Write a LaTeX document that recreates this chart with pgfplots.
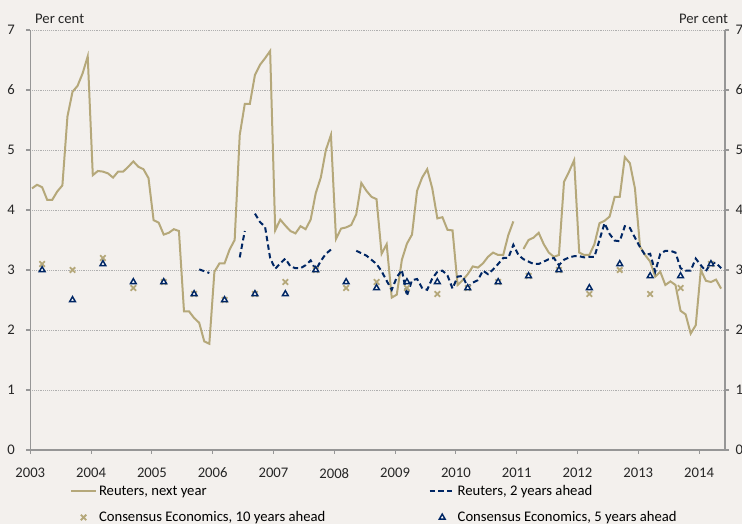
\documentclass[border=0pt]{standalone}
\usepackage{fontspec}
\setmainfont{Carlito}
\usepackage{pgfplots}
\pgfplotsset{compat=1.18}
\usepackage{pgfplotstable}
\usetikzlibrary{backgrounds}
\definecolor{bgc}{RGB}{243,240,237}
\definecolor{khaki}{RGB}{181,168,122}
\definecolor{navy}{RGB}{0,38,100}
\definecolor{axgray}{RGB}{150,150,150}
\definecolor{gridgray}{RGB}{175,175,175}

% t = months since January 2003
\pgfplotstableread{
t v
0 4.36
1 4.42
2 4.38
3 4.17
4 4.17
5 4.31
6 4.41
7 5.56
8 5.97
9 6.07
10 6.28
11 6.56
12 4.58
13 4.65
14 4.64
15 4.61
16 4.54
17 4.64
18 4.64
19 4.72
20 4.81
21 4.72
22 4.68
23 4.53
24 3.83
25 3.79
26 3.59
27 3.62
28 3.68
29 3.65
30 2.31
31 2.31
32 2.20
33 2.12
34 1.81
35 1.77
36 2.97
37 3.11
38 3.11
39 3.34
40 3.50
41 5.25
42 5.77
43 5.77
44 6.25
45 6.42
46 6.53
47 6.65
48 3.66
49 3.84
50 3.74
51 3.65
52 3.61
53 3.73
54 3.68
55 3.84
56 4.28
57 4.54
58 5.00
59 5.25
60 3.52
61 3.69
62 3.71
63 3.75
64 3.93
65 4.45
66 4.32
67 4.22
68 4.18
69 3.27
70 3.43
71 2.54
72 2.59
73 3.17
74 3.44
75 3.59
76 4.32
77 4.54
78 4.68
79 4.36
80 3.86
81 3.88
82 3.67
83 3.66
84 2.75
85 2.83
86 2.93
87 3.06
88 3.04
89 3.11
90 3.22
91 3.29
92 3.25
93 3.25
94 3.58
95 3.81
96 nan
97 3.35
98 3.50
99 3.54
100 3.62
101 3.43
102 3.29
103 3.22
104 3.25
105 4.47
106 4.64
107 4.83
108 3.29
109 3.25
110 3.25
111 3.43
112 3.78
113 3.82
114 3.89
115 4.22
116 4.22
117 4.88
118 4.78
119 4.36
120 3.39
121 3.25
122 3.14
123 2.89
124 2.97
125 2.75
126 2.81
127 2.75
128 2.32
129 2.26
130 1.94
131 2.08
132 3.00
133 2.82
134 2.80
135 2.84
136 2.69
}\reutersnext

\pgfplotstableread{
t v
33 3.01
34 2.98
35 2.95
36 nan
41 3.21
42 3.65
43 nan
44 3.94
45 3.80
46 3.72
47 3.20
48 3.02
49 3.11
50 3.19
51 3.06
52 3.03
53 3.03
54 3.08
55 3.16
56 3.00
57 3.15
58 3.27
59 3.34
60 nan
64 3.32
65 3.28
66 3.24
67 3.17
68 3.10
69 2.98
70 2.82
71 2.67
72 2.88
73 3.00
74 2.57
75 2.83
76 2.85
77 2.70
78 2.67
79 2.86
80 2.97
81 2.99
82 2.91
83 2.69
84 2.89
85 2.90
86 2.71
87 2.79
88 2.83
89 2.99
90 2.93
91 3.01
92 3.10
93 3.20
94 3.20
95 3.42
96 3.25
97 3.18
98 3.14
99 3.10
100 3.10
101 3.14
102 3.18
103 3.20
104 3.08
105 3.17
106 3.21
107 3.23
108 3.23
109 3.21
110 3.22
111 3.22
112 3.50
113 3.78
114 3.60
115 3.49
116 3.48
117 3.73
118 3.70
119 3.54
120 3.38
121 3.25
122 3.27
123 2.97
124 3.27
125 3.32
126 3.32
127 3.29
128 3.03
129 2.99
130 2.99
131 3.19
132 3.08
133 2.98
134 3.12
135 3.12
136 3.03
}\reuterstwo

\pgfplotstableread{
t v
2 3.1
8 3.0
14 3.2
20 2.7
26 2.8
32 2.6
38 2.5
44 2.6
50 2.8
56 3.0
62 2.7
68 2.8
74 2.7
80 2.6
86 2.7
92 2.8
98 2.9
104 3.0
110 2.6
116 3.0
122 2.6
128 2.7
134 3.1
}\ceten

\pgfplotstableread{
t v
2 3.0
8 2.5
14 3.1
20 2.8
26 2.8
32 2.6
38 2.5
44 2.6
50 2.6
56 3.0
62 2.8
68 2.7
74 2.8
80 2.8
86 2.7
92 2.8
98 2.9
104 3.0
110 2.7
116 3.1
122 2.9
128 2.9
134 3.1
}\cefive

\begin{document}
\begin{tikzpicture}
\pgfplotsset{
  common/.style={
    scale only axis, width=521pt, height=315pt,
    xmin=-0.34, xmax=136.76, ymin=0, ymax=7,
    ytick={0,1,2,3,4,5,6,7},
    font=\fontsize{11}{13}\selectfont,
    /pgf/number format/assume math mode=true,
    tick style={axgray, line width=0.8pt},
    tick align=outside, major tick length=3pt,
    x axis line style={-, axgray, line width=0.9pt},
    y axis line style={-, axgray, line width=0.9pt},
    ticklabel style={text=black!85},
  }
}
\begin{axis}[common,
  axis x line*=bottom, axis y line*=left,
  xtick={-0.34,11.66,23.66,35.66,47.66,59.66,71.66,83.66,95.66,107.66,119.66,131.66},
  xticklabels={2003,2004,2005,2006,2007,2008,2009,2010,2011,2012,2013,2014},
  ymajorgrids, grid style={gridgray, densely dotted, line width=0.6pt},
  unbounded coords=jump,
  xticklabel style={yshift=-7pt},
  yticklabel style={xshift=-5pt},
  legend image code/.code={\draw[mark repeat=2,mark phase=2,#1] plot coordinates {(0pt,0pt) (9.4pt,0pt) (18.75pt,0pt)};},
  legend columns=2,
  legend cell align=left,
  legend style={at={(0.0572,-0.082)}, anchor=north west, draw=none, fill=none,
    inner sep=0pt, outer sep=0pt, row sep=9pt,
    font=\fontsize{11}{13}\selectfont,
    nodes={inner sep=0pt, text height=8pt, text depth=2.5pt},
    /tikz/every odd column/.append style={column sep=1.5pt},
    /tikz/every even column/.append style={column sep=77.5pt}},
]
\addplot[khaki, line width=1.5pt, mark=none] table[x=t, y=v] {\reutersnext};
\addlegendentry{Reuters, next year}
\addplot[navy, line width=1.5pt, dash pattern=on 4pt off 2.5pt, mark=none] table[x=t, y=v] {\reuterstwo};
\addlegendentry{Reuters, 2 years ahead}
\addplot[only marks, mark=x, mark size=2.9pt, mark options={khaki, line width=1.35pt, solid}] table[x=t, y=v] {\ceten};
\addlegendentry{Consensus Economics, 10 years ahead}
\addplot[only marks, mark=triangle*, mark size=2.5pt, mark options={draw=navy, fill=white, line width=1.1pt, solid}] table[x=t, y=v] {\cefive};
\addlegendentry{Consensus Economics, 5 years ahead}
\end{axis}
\begin{axis}[common,
  axis x line=none, axis y line*=right,
  yticklabel style={xshift=1.5pt},
]
\end{axis}
\node[anchor=base west, font=\fontsize{11}{13}\selectfont, text=black!85, inner sep=0pt] at (3.5pt,319.5pt) {Per cent};
\node[anchor=base east, font=\fontsize{11}{13}\selectfont, text=black!85, inner sep=0pt] at (523.5pt,319.5pt) {Per cent};
\pgfresetboundingbox
\begin{scope}[on background layer]
\fill[bgc] (-22.7pt,-55.5pt) rectangle (533.8pt,337.5pt);
\end{scope}
\useasboundingbox (-22.7pt,-55.5pt) rectangle (533.8pt,337.5pt);
\end{tikzpicture}
\end{document}
